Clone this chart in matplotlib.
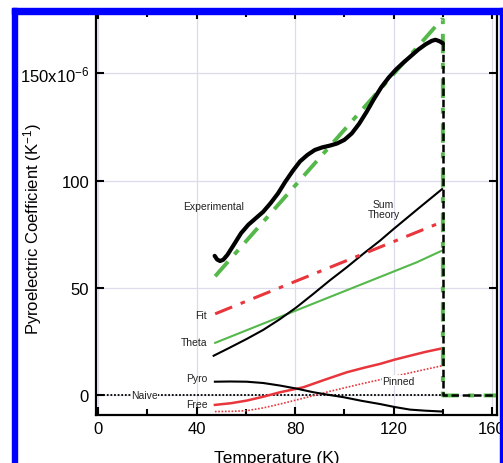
import matplotlib.pyplot as plt
from matplotlib.patches import Rectangle

plt.rcParams['font.family'] = ['Liberation Sans', 'DejaVu Sans']
plt.rcParams['mathtext.fontset'] = 'custom'
plt.rcParams['mathtext.rm'] = 'Liberation Sans'
plt.rcParams['mathtext.it'] = 'Liberation Sans:italic'

# transition temperature (K)
tc = 140

# experimental pyroelectric coefficient (x1e-6 1/K)
exp_T = [47.3, 48.3, 49.5, 50.8, 52.5, 55, 58, 61, 64, 67, 70, 73, 76, 79, 82, 85,
         88, 91, 94, 97, 100, 103, 106, 109, 112, 115, 118, 121, 124, 127, 130,
         133, 135.5, 137, 138.5, 140]
exp_p = [65.0, 63.3, 62.6, 63.2, 65.5, 70.0, 75.5, 79.5, 82.5, 85.5, 89.5, 94.0,
         99.5, 104.5, 109.0, 112.0, 114.3, 115.5, 116.3, 117.3, 119.0, 122.0, 126.5,
         132.0, 138.0, 143.5, 148.0, 151.8, 155.0, 158.0, 161.0, 163.5, 165.1, 165.6,
         165.0, 164.0]

# linear fit to experiment
lin_T = [47.5, 139.5]
lin_p = [55.5, 175.0]

# theory curves
sum_T = [46.9, 53, 60.3, 67, 73.9, 80.5, 87.4, 94, 101, 107.5, 114.5, 120, 130, 139.7]
sum_p = [18.5, 22.0, 26.3, 30.5, 35.6, 41.0, 47.3, 53.5, 59.7, 65.8, 72.1, 77.5, 87.0,
         96.1]

theta_T = [47.5, 75.2, 102.3, 129.4, 139.6]
theta_p = [24.5, 37.2, 49.6, 62.0, 67.4]

fit_T = [47.5, 138.0]
fit_p = [38.0, 80.0]

pyro_T = [47.4, 53.5, 60.3, 67, 73.9, 80.5, 87.4, 93.5, 99.6, 107, 114.5, 120.5,
          126.7, 133, 140]
pyro_p = [6.4, 6.5, 6.4, 5.8, 4.6, 3.2, 1.5, 0.3, -0.8, -2.5, -4.0, -5.4, -6.6, -7.1,
          -7.5]

free_T = [47.4, 54, 60.3, 67, 73.9, 83.3, 92, 101, 108, 114.5, 120.5, 126.7, 133, 140]
free_p = [-4.4, -3.6, -2.4, -0.6, 1.5, 3.8, 7.3, 10.8, 12.9, 14.7, 16.7, 18.5, 20.3,
          22.0]

pinned_T = [47.4, 54, 60.3, 67, 73.9, 80.5, 87.4, 94, 101, 108, 115.9, 128, 140]
pinned_p = [-7.5, -7.4, -7.1, -5.8, -4.0, -2.1, -0.1, 1.9, 3.8, 5.7, 7.7, 10.9, 13.9]

W, H = 503, 464
fig = plt.figure(figsize=(W / 100, H / 100), dpi=100)
ax = fig.add_axes([96 / W, 1 - 416 / H, (497 - 96) / W, (416 - 12) / H])
ax.set_xlim(-0.9, 162)
ax.set_ylim(-9.1, 179)

green = '#55b84a'
red = '#e8363c'

ax.grid(True, color='#dcdcec', lw=0.9)
ax.set_axisbelow(True)

# naive (zero) line
ax.plot([-0.9, tc], [0, 0], color='k', lw=1.3, ls=(0, (1, 1)))

ax.plot(pinned_T, pinned_p, color=red, lw=1.2, ls=(0, (1, 1)))
ax.plot(free_T, free_p, color=red, lw=1.8)
ax.plot(pyro_T, pyro_p, color='k', lw=1.5)
ax.plot(theta_T, theta_p, color=green, lw=1.5)
ax.plot(sum_T, sum_p, color='k', lw=1.5)
ax.plot(fit_T, fit_p, color=red, lw=2.2, ls=(0, (6, 3, 1.5, 3)))

# fit line with drop to zero at tc
ax.plot(lin_T + [tc, tc, 162], lin_p + [lin_p[-1], 0, 0], color=green, lw=2.8,
        ls=(0, (5, 2.5, 1.5, 2.5)))
ax.plot(exp_T, exp_p, color='k', lw=3, solid_capstyle='round', solid_joinstyle='round')
ax.plot([tc, tc, 162], [exp_p[-1], 0, 0], color='k', lw=1.8, ls=(0, (3, 1.5)))

tcol = '#222222'
fs = 7.5
ax.text(46.7, 88.4, 'Experimental', ha='center', va='center', fontsize=fs, color=tcol)
ax.text(115.9, 87, 'Sum\nTheory', ha='center', va='center', fontsize=fs, color=tcol,
        linespacing=1.0)
ax.text(44.0, 37.6, 'Fit', ha='right', va='center', fontsize=fs, color=tcol)
ax.text(44.5, 25, 'Theta', ha='right', va='center', fontsize=fs, color=tcol)
ax.text(44.5, 8, 'Pyro', ha='right', va='center', fontsize=fs, color=tcol)
ax.text(44.5, -4, 'Free', ha='right', va='center', fontsize=fs, color=tcol)
ax.text(115.5, 6.9, 'Pinned', ha='left', va='center', fontsize=fs, color=tcol,
        bbox=dict(facecolor='white', edgecolor='none', pad=0.2))
ax.text(18.8, 0, 'Naive', ha='center', va='center', fontsize=fs, color=tcol,
        bbox=dict(facecolor='white', edgecolor='none', pad=0.2))

ax.set_xticks([0, 40, 80, 120, 160])
ax.set_xticks([20, 60, 100, 140], minor=True)
ax.set_yticks([0, 50, 100, 150])
ax.set_yticklabels(['0', '50', '100', '150x10$^{-6}$'])
ax.tick_params(which='both', direction='in', top=True, right=True, width=1.5,
               labelsize=12, color='k')
ax.tick_params(which='major', length=6)
ax.tick_params(which='minor', length=4)
ax.tick_params(axis='y', pad=5)
ax.tick_params(axis='x', pad=4.5)
for s in ax.spines.values():
    s.set_linewidth(1.6)

fig.text(277 / W, 1 - 451 / H, 'Temperature (K)', ha='center', va='top', fontsize=12.5)
fig.text(33 / W, 1 - 229 / H, 'Pyroelectric Coefficient (K$^{-1}$)', ha='center',
         va='center', rotation=90, fontsize=12)

# blue frame of the screenshot
blue = '#0000ff'
fig.patches.append(Rectangle((12 / W, 0), 5 / W, 1 - 9 / H, transform=fig.transFigure,
                             color=blue, zorder=10))
fig.patches.append(Rectangle((12 / W, 1 - 15 / H), 1 - 12 / W, 6 / H,
                             transform=fig.transFigure, color=blue, zorder=10))
fig.patches.append(Rectangle((500 / W, 0), 3 / W, 1 - 9 / H, transform=fig.transFigure,
                             color=blue, zorder=10))

fig.savefig('out.png', dpi=100)
